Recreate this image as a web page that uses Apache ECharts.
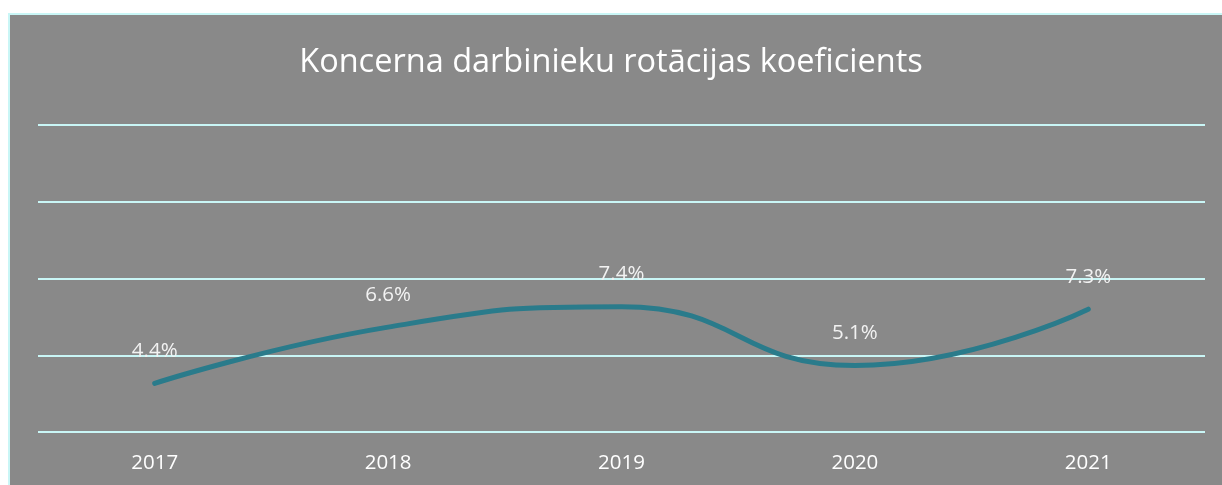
<!DOCTYPE html>
<html lang="lv">
<head>
    <meta charset="UTF-8">
    <script src="https://cdn.jsdelivr.net/npm/echarts@6/dist/echarts.min.js"></script>
    <style>
        body {
            margin: 0;
            background: #ffffff;
        }

        #frame {
            position: absolute;
            left: 8px;
            top: 13px;
            width: 1220px;
            height: 480px;
            background: #898989;
            border-left: 2px solid #c9f6f6;
            border-top: 2px solid #c9f6f6;
        }

        #rotation_chart {
            position: absolute;
            left: 0;
            top: 0;
            width: 1222px;
            height: 485px;
        }
    </style>
</head>
<body>
<div id="frame"></div>
<div id="rotation_chart"></div>
<script type="text/javascript">
    const years = ['2017', '2018', '2019', '2020', '2021'];
    const rotation = [4.4, 6.6, 7.4, 5.1, 7.3];

    const rotation_chart = echarts.init(document.getElementById('rotation_chart'));

    rotation_chart.setOption({
        backgroundColor: 'transparent',
        title: {
            text: 'Koncerna darbinieku rotācijas koeficients',
            left: 'center',
            top: 41,
            textStyle: {
                color: '#ffffff',
                fontFamily: 'Open Sans',
                fontWeight: 'normal',
                fontSize: 32.5
            }
        },
        grid: {
            left: 38,
            right: 17,
            top: 125,
            bottom: 53
        },
        xAxis: {
            type: 'category',
            data: years,
            boundaryGap: true,
            axisLine: {show: false},
            axisTick: {show: false},
            axisLabel: {
                color: '#ffffff',
                fontFamily: 'Open Sans',
                fontSize: 20.5,
                margin: 21
            }
        },
        yAxis: {
            type: 'value',
            min: 2.5,
            max: 14.5,
            interval: 3,
            axisLabel: {show: false},
            axisLine: {show: false},
            axisTick: {show: false},
            splitLine: {
                lineStyle: {color: '#c9f6f6', width: 2}
            }
        },
        series: [
            {
                name: 'Rotācijas koeficients',
                type: 'line',
                data: rotation,
                smooth: 0.5,
                symbol: 'circle',
                symbolSize: 1,
                itemStyle: {color: 'rgba(0,0,0,0)'},
                lineStyle: {
                    color: '#2a7b8b',
                    width: 5,
                    cap: 'round'
                },
                label: {
                    show: true,
                    position: 'top',
                    distance: 21,
                    formatter: '{c}%',
                    color: '#f2f2f2',
                    fontFamily: 'Open Sans',
                    fontSize: 20.5
                }
            }
        ]
    });
</script>
</body>
</html>
